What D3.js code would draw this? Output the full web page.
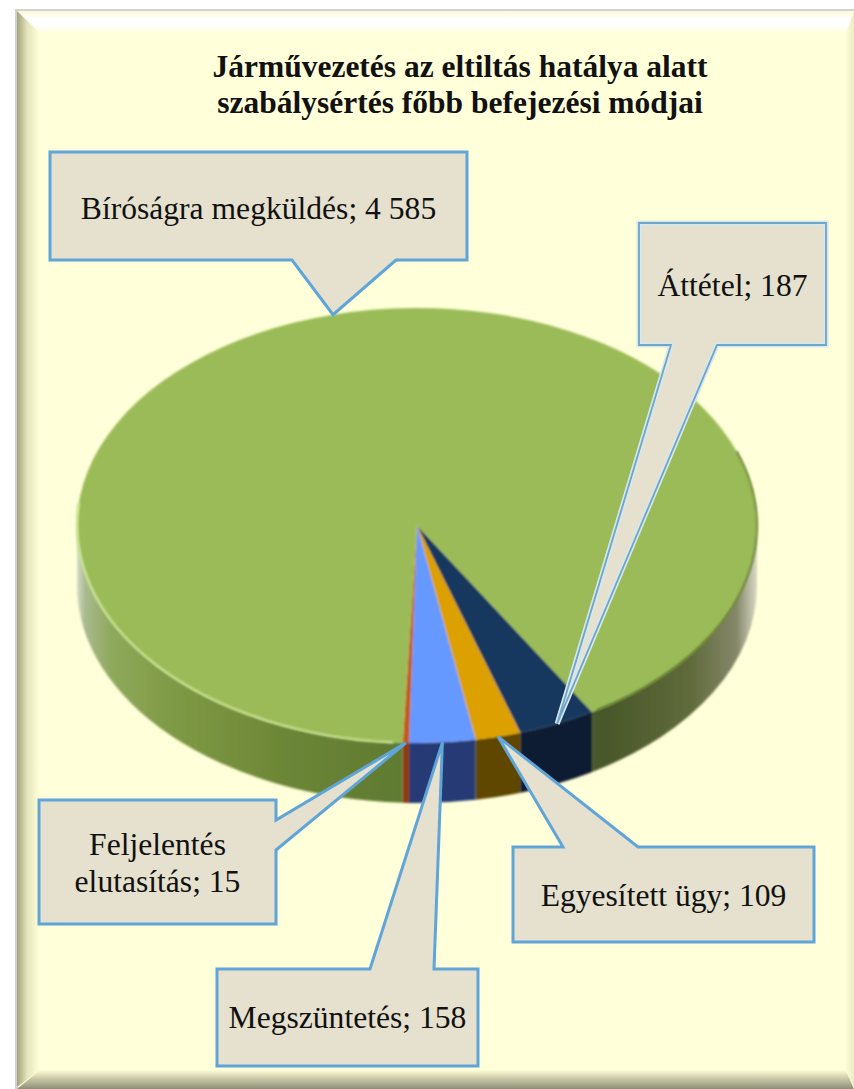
<!DOCTYPE html>
<html>
<head>
<meta charset="utf-8">
<style>
    html, body { margin: 0; padding: 0; background: #fff; }
    svg { display: block; }
    text { font-family: "Liberation Serif", serif; fill: #111; }
    .chart-title { font-size: 31.5px; font-weight: bold; text-anchor: middle; }
    .callout-label { font-size: 31.6px; text-anchor: middle; }
</style>
</head>
<body>
<div id="chart"></div>
<script src="https://cdn.jsdelivr.net/npm/d3@7"></script>
<script>
// Slices in the order they run clockwise round the pie
var categories = ["Áttétel", "Egyesített ügy", "Megszüntetés", "Feljelentés elutasítás", "Bíróságra megküldés"];
var values = [187, 109, 158, 15, 4585];
var titleLines = ["Járművezetés az eltiltás hatálya alatt", "szabálysértés főbb befejezési módjai"];

var topColors = ["#17375e", "#dca000", "#6699ff", "#c2591c", "#9bbb59"];
var sideColors = ["#0a1a33", "#5e4600", "#283b74", "#8f3b0e", "url(#greenSide)"];

// callout boxes, same order as categories
var callouts = [
    { x: 639, y: 223, w: 187, h: 122, side: "bottom", base: [671, 717], baseline: [296], pale: true },
    { x: 513, y: 847, w: 301, h: 95, side: "top", base: [563, 638], baseline: [906] },
    { x: 217, y: 969, w: 261, h: 97, side: "top", base: [370, 434], baseline: [1028] },
    { x: 39, y: 800, w: 237, h: 124, side: "right", base: [820, 850], baseline: [855, 892] },
    { x: 50, y: 152, w: 417, h: 108, side: "bottom", base: [292, 396], baseline: [219] }
];

var width = 854, height = 1089;
var cx = 417, cy = 525.5, rx = 340, ry = 217.5, depth = 60;
var startDeg = 149;

var svg = d3.select("#chart").append("svg")
    .attr("width", width)
    .attr("height", height);

var defs = svg.append("defs");

function addGradient(id, coords, stops) {
    var g = defs.append("linearGradient")
        .attr("id", id)
        .attr("gradientUnits", "userSpaceOnUse")
        .attr("x1", coords[0]).attr("y1", coords[1])
        .attr("x2", coords[2]).attr("y2", coords[3]);
    stops.forEach(function(s) {
        g.append("stop").attr("offset", s[0]).attr("stop-color", s[1]);
    });
}

addGradient("bevelTop", [0, 11, 0, 33], [[0, "#fbfbd6"], [0.35, "#ffffff"], [0.7, "#ffffff"], [1, "#ffffd9"]]);
addGradient("bevelLeft", [17, 0, 40, 0], [[0, "#a3a37c"], [0.45, "#e6e6bd"], [1, "#ffffd9"]]);
addGradient("bevelBottom", [0, 1070, 0, 1089], [[0, "#ffffd9"], [0.45, "#c9c9a8"], [1, "#8f8f78"]]);
addGradient("bevelRight", [844, 0, 854, 0], [[0, "#ffffd9"], [1, "#ecECc4"]]);
addGradient("greenSide", [cx - rx, 0, cx + rx, 0], [
    [0, "#d5dcc8"], [0.012, "#a9b98f"], [0.05, "#8fa95c"], [0.14, "#7f9a45"], [0.3, "#6d8738"],
    [0.48, "#5f7a30"], [0.52, "#4e5f2a"], [0.78, "#4a5829"], [0.9, "#5f6a3b"], [0.97, "#85876a"], [1, "#d9d9c4"]
]);

var soft = defs.append("filter").attr("id", "soft")
    .attr("x", "-5%").attr("y", "-5%").attr("width", "110%").attr("height", "110%");
soft.append("feGaussianBlur").attr("stdDeviation", 0.8);
var glow = defs.append("filter").attr("id", "rimBlur")
    .attr("x", "-5%").attr("y", "-5%").attr("width", "110%").attr("height", "110%");
glow.append("feGaussianBlur").attr("stdDeviation", 1.1);

// Frame with bevelled edges
var L = 17, T = 11, R = width, B = 1087, inset = 23;
svg.append("rect").attr("x", 15).attr("y", 9).attr("width", width - 15).attr("height", height - 9).attr("fill", "#d2d2d2");
svg.append("rect").attr("x", L).attr("y", T).attr("width", R - L).attr("height", B - T).attr("fill", "#ffffd9");

var bevels = [
    { fill: "url(#bevelTop)", pts: [[L, T], [R, T], [R - 8, T + 22], [L + inset, T + 22]] },
    { fill: "url(#bevelLeft)", pts: [[L, T], [L + inset, T + 22], [L + inset, 1070], [L, B]] },
    { fill: "url(#bevelBottom)", pts: [[L, height], [L + inset, 1070], [R - 8, 1070], [R, height]] },
    { fill: "url(#bevelRight)", pts: [[R, T], [R - 8, T + 22], [R - 8, 1070], [R, height]] }
];
svg.selectAll(".bevel").data(bevels).enter().append("polygon")
    .attr("class", "bevel")
    .attr("points", function(d) { return d.pts.join(" "); })
    .attr("fill", function(d) { return d.fill; });

// Title
svg.selectAll(".chart-title").data(titleLines).enter().append("text")
    .attr("class", "chart-title")
    .attr("x", 460)
    .attr("y", function(d, i) { return 77 + i * 36; })
    .text(function(d) { return d; });

// Pie
var toRad = Math.PI / 180;
var pie = d3.pie().sort(null)
    .startAngle(startDeg * toRad)
    .endAngle((startDeg + 360) * toRad);
var slices = pie(values);

var arc = d3.arc().innerRadius(0).outerRadius(rx);

function rimX(a) { return cx + rx * Math.sin(a); }
function rimY(a) { return cy - ry * Math.cos(a); }

function arcPath(a0, a1, dy, back) {
    var large = Math.abs(a1 - a0) > Math.PI ? 1 : 0;
    return "A" + rx + "," + ry + " 0 " + large + " " + (back ? 0 : 1) + " " + rimX(a1) + "," + (rimY(a1) + dy);
}

function sidePath(a0, a1) {
    return "M" + rimX(a0) + "," + rimY(a0) +
        arcPath(a0, a1, 0, false) +
        "L" + rimX(a1) + "," + (rimY(a1) + depth) +
        arcPath(a1, a0, depth, true) + "Z";
}

// only the front half of the wall shows, a slice can cross it twice
function visibleParts(d) {
    var parts = [];
    [0, 1].forEach(function(k) {
        var lo = Math.max(d.startAngle, (90 + 360 * k) * toRad);
        var hi = Math.min(d.endAngle, (270 + 360 * k) * toRad);
        if (hi > lo) parts.push({ a0: lo, a1: hi, index: d.index });
    });
    return parts;
}

var pieG = svg.append("g").attr("filter", "url(#soft)");

var sides = [];
slices.forEach(function(d) { sides = sides.concat(visibleParts(d)); });

pieG.selectAll(".side").data(sides).enter().append("path")
    .attr("class", "side")
    .attr("d", function(d) { return sidePath(d.a0, d.a1); })
    .attr("fill", function(d) { return sideColors[d.index]; });

pieG.append("g")
    .attr("transform", "translate(" + cx + "," + cy + ") scale(1," + (ry / rx) + ")")
    .selectAll(".slice").data(slices).enter().append("path")
    .attr("class", "slice")
    .attr("d", arc)
    .attr("fill", function(d, i) { return topColors[i]; });

// lit and shaded rim of the green slice
svg.append("path")
    .attr("d", "M" + rimX(184 * toRad) + "," + rimY(184 * toRad) + arcPath(184 * toRad, 276 * toRad, 0, false))
    .attr("fill", "none").attr("stroke", "#cfe897").attr("stroke-width", 2.2).attr("filter", "url(#rimBlur)");
svg.append("path")
    .attr("d", "M" + rimX(70 * toRad) + "," + rimY(70 * toRad) + arcPath(70 * toRad, 148 * toRad, 0, false))
    .attr("fill", "none").attr("stroke", "#5f7c2c").attr("stroke-width", 1.8).attr("filter", "url(#rimBlur)");

// Callouts
var numberFormat = d3.formatLocale({ decimal: ",", thousands: " ", grouping: [3], currency: ["", ""] }).format(",d");

function calloutPath(c, tip) {
    var x0 = c.x, x1 = c.x + c.w, y0 = c.y, y1 = c.y + c.h;
    var a = c.base[0], b = c.base[1];
    var pts = [[x0, y0]];
    if (c.side === "top") pts.push([a, y0], tip, [b, y0]);
    pts.push([x1, y0]);
    if (c.side === "right") pts.push([x1, a], tip, [x1, b]);
    pts.push([x1, y1]);
    if (c.side === "bottom") pts.push([b, y1], tip, [a, y1]);
    pts.push([x0, y1]);
    return "M" + pts.join("L") + "Z";
}

var calloutG = svg.selectAll(".callout").data(slices).enter().append("g").attr("class", "callout");

calloutG.append("path")
    .attr("d", function(d, i) {
        var mid = (d.startAngle + d.endAngle) / 2;
        return calloutPath(callouts[i], [rimX(mid), rimY(mid)]);
    })
    .attr("fill", "#e5e1ce")
    .attr("stroke", function(d, i) { return callouts[i].pale ? "#d6e8ee" : "#5fa5d8"; })
    .attr("stroke-width", function(d, i) { return callouts[i].pale ? 5 : 3; })
    .attr("stroke-linejoin", "miter");

// the Áttétel box has a pale inner band with a thin darker outline
calloutG.filter(function(d, i) { return callouts[i].pale; }).append("path")
    .attr("d", function(d, i) {
        var mid = (d.startAngle + d.endAngle) / 2;
        return calloutPath(callouts[i], [rimX(mid), rimY(mid)]);
    })
    .attr("fill", "none")
    .attr("stroke", "#6fa5c6")
    .attr("stroke-width", 1.8);

calloutG.each(function(d, i) {
    var c = callouts[i];
    var label = categories[i] + "; " + numberFormat(d.value);
    var lines = c.baseline.length > 1 ? [label.slice(0, label.indexOf(" ")), label.slice(label.indexOf(" ") + 1)] : [label];
    d3.select(this).selectAll(".callout-label").data(lines).enter().append("text")
        .attr("class", "callout-label")
        .attr("x", c.x + c.w / 2)
        .attr("y", function(l, j) { return c.baseline[j]; })
        .text(function(l) { return l; });
});
</script>
</body>
</html>
